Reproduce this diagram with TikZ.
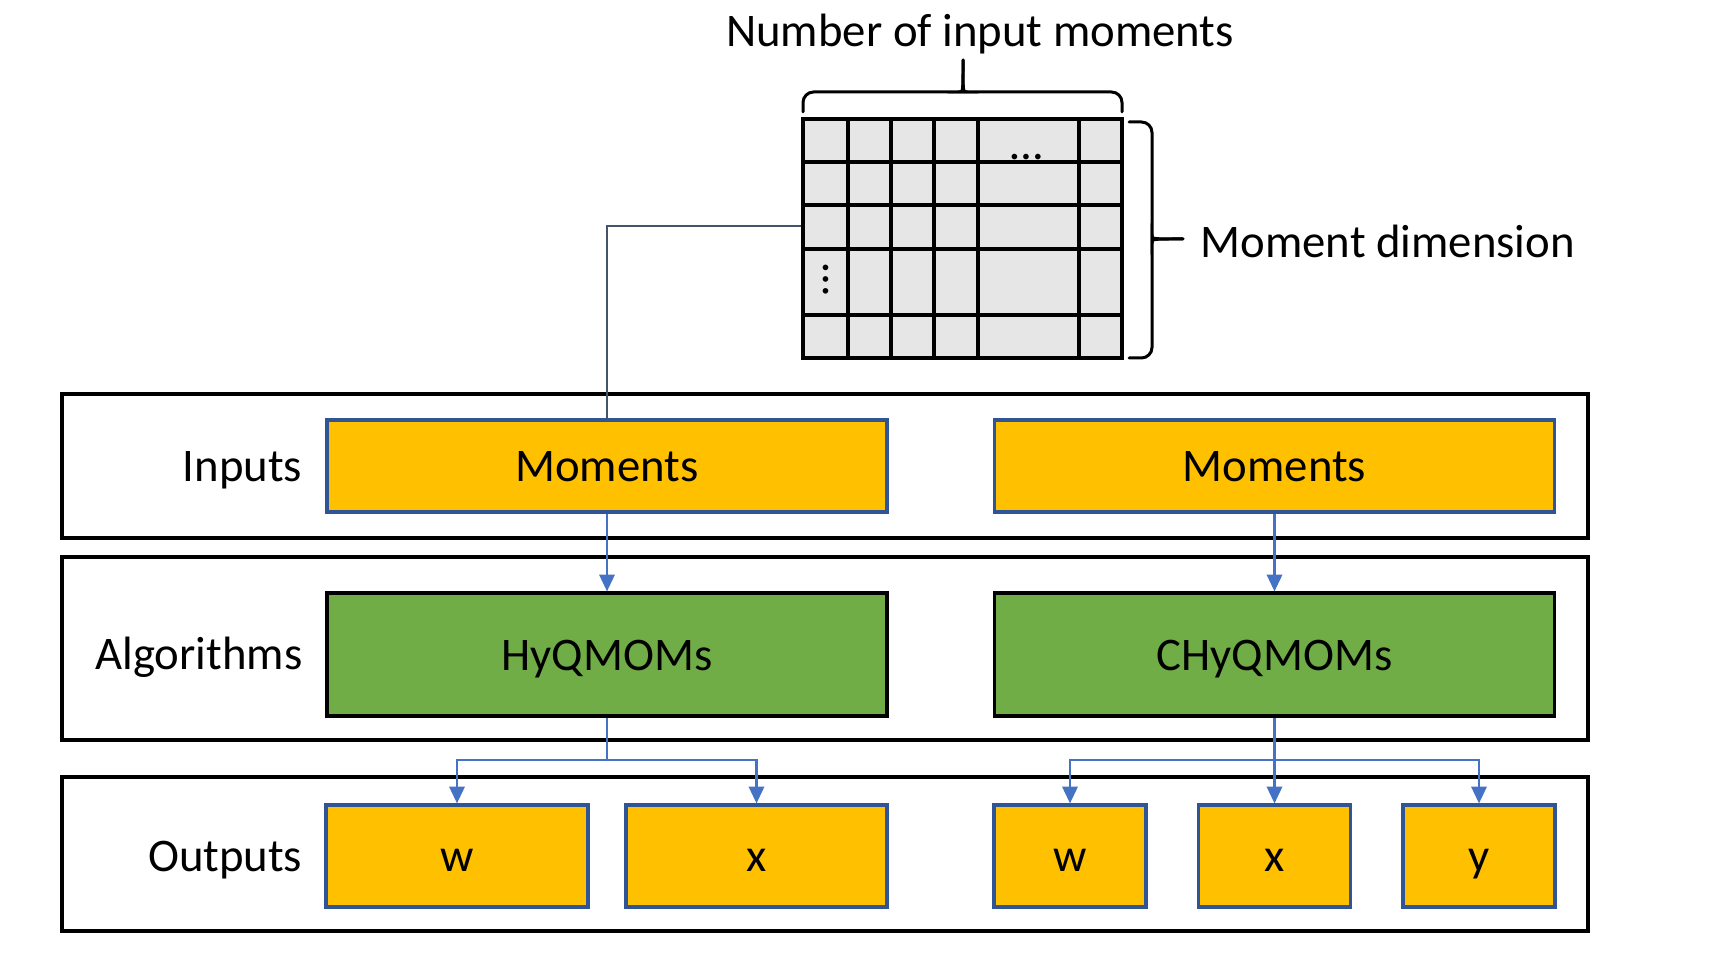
\documentclass[tikz,border=0pt]{standalone}
\usepackage{fontspec}
\setmainfont{Carlito}
\usetikzlibrary{arrows.meta,positioning}
\definecolor{boxyellow}{RGB}{255,192,0}
\definecolor{boxgreen}{RGB}{112,173,71}
\definecolor{boxblue}{RGB}{47,85,151}
\definecolor{linkblue}{RGB}{68,114,196}
\definecolor{slategray}{RGB}{68,84,106}
\definecolor{cellgray}{RGB}{231,230,230}

\begin{document}
\begin{tikzpicture}[every node/.style={font=\fontsize{13.3}{16}\selectfont,
                                       text height=10pt,text depth=0.93pt},
    panel/.style={draw,line width=1.1pt,minimum width=15.26cm,inner sep=0pt},
    ybox/.style={draw=boxblue,fill=boxyellow,line width=0.9pt,inner sep=0pt,
                 minimum width=5.6cm,minimum height=0.92cm},
    gbox/.style={draw=black,fill=boxgreen,line width=0.9pt,inner sep=0pt,
                 minimum width=5.6cm,minimum height=1.23cm},
    obox/.style={ybox,minimum height=1.02cm},
    rowlabel/.style={anchor=east,inner sep=0pt},
    link/.style={draw=linkblue,line width=0.6pt},
    arr/.style={link,-{Triangle[width=4.4pt,length=4.8pt]}},
    bracket/.style={line width=0.85pt,line cap=round,rounded corners=3pt}]

      \useasboundingbox (0,0) rectangle (17.15,9.59);

      % panels
      \node[panel,minimum height=1.44cm] (pin)  at (8.25,4.93) {};
      \node[panel,minimum height=1.83cm] (palg) at (8.25,3.105) {};
      \node[panel,minimum height=1.54cm] (pout) at (8.25,1.05) {};

      \node[rowlabel] (lin)  at (3.03,4.93)  {Inputs};
      \node[rowlabel] (lalg) at (3.03,3.05)  {Algorithms};
      \node[rowlabel] (lout) at (3.03,1.03)  {Outputs};

      % inputs and algorithms
      \node[ybox] (momL) at (6.07,4.93)   {Moments};
      \node[ybox] (momR) at (12.745,4.93) {Moments};
      \node[gbox] (hyq)  at (6.07,3.045)   {HyQMOMs};
      \node[gbox] (chq)  at (12.745,3.045) {CHyQMOMs};

      % outputs
      \node[obox,minimum width=2.62cm] (wL) at (4.57,1.03)   {w};
      \node[obox,minimum width=2.61cm] (xL) at (7.565,1.03)  {x};
      \node[obox,minimum width=1.52cm] (wR) at (10.70,1.03)  {w};
      \node[obox,minimum width=1.52cm] (xR) at (12.745,1.03) {x};
      \node[obox,minimum width=1.52cm] (yR) at (14.79,1.03)  {y};

      \draw[arr] (momL) -- (hyq);
      \draw[arr] (momR) -- (chq);

      \coordinate (splitL) at (hyq.south |- 0,1.99);
      \coordinate (splitR) at (chq.south |- 0,1.99);
      \draw[link] (hyq) -- (splitL);
      \draw[arr] (splitL) -| (wL);
      \draw[arr] (splitL) -| (xL);
      \draw[arr] (chq) -- (xR);
      \draw[arr] (splitR) -| (wR);
      \draw[arr] (splitR) -| (yR);

      % moment table
      \node[draw,fill=cellgray,line width=1pt,inner sep=0pt,
            minimum width=3.19cm,minimum height=2.39cm] (grid) at (9.625,7.205) {};
      \foreach \x in {8.48,8.91,9.34,9.78,10.79}
        \draw[line width=1pt] (\x,8.40) -- (\x,6.01);
      \foreach \y in {7.97,7.54,7.10,6.44}
        \draw[line width=1pt] (8.03,\y) -- (11.22,\y);
      \node (hdots) at (10.27,8.15) {\dots};
      \node[rotate=-90] (vdots) at (8.39,6.79) {\dots};

      % braces
      \draw[bracket] (8.03,8.47) |- (9.56,8.67) .. controls (9.63,8.67) .. (9.63,8.99);
      \draw[bracket] (9.63,8.99) .. controls (9.63,8.67) .. (9.70,8.67) -| (11.22,8.47);
      \draw[bracket] (11.29,8.37) -| (11.52,7.27) .. controls (11.52,7.20) .. (11.83,7.20);
      \draw[bracket] (11.83,7.20) .. controls (11.52,7.20) .. (11.52,7.13) |- (11.29,6.01);

      \node (nmom) at (9.80,9.28) {Number of input moments};
      \node[anchor=west,inner sep=0pt] (mdim) at (12.00,7.17) {Moment dimension};

      \coordinate (tap) at (grid.west |- 0,7.33);
      \draw[slategray,line width=0.7pt] (tap) -| (momL);
    \end{tikzpicture}
\end{document}
